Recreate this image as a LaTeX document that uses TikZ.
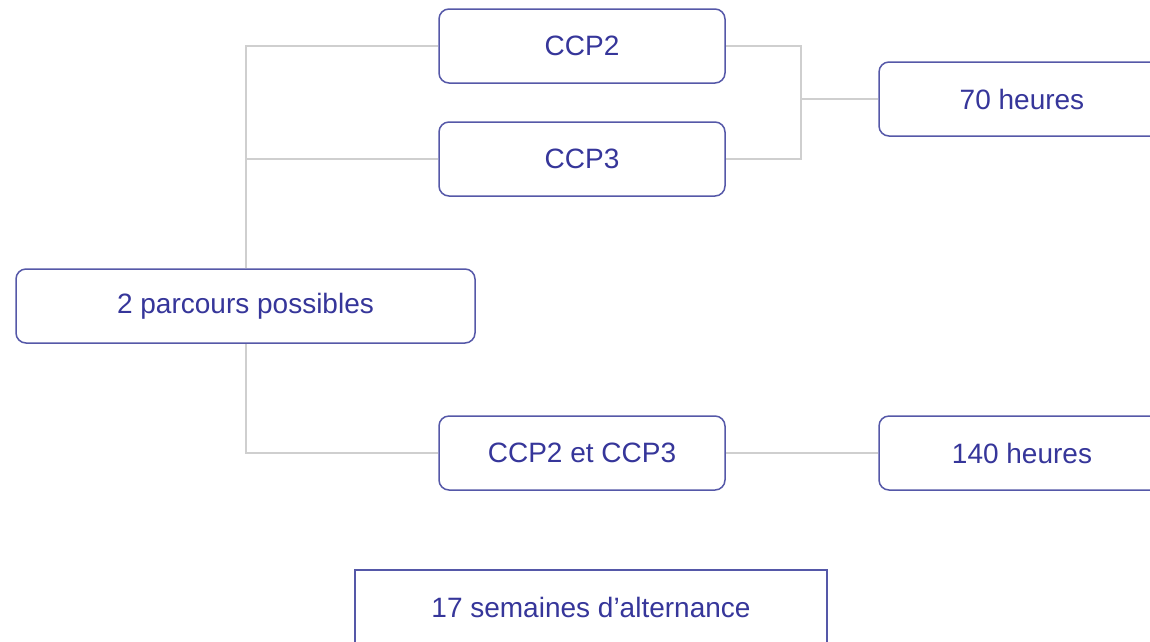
\documentclass[tikz,border=0pt]{standalone}
\usepackage{fontspec}
\setmainfont{Liberation Sans}
\definecolor{txt}{HTML}{36369A}
\definecolor{bord}{HTML}{5558A8}
\definecolor{conn}{HTML}{CFCFCF}
\begin{document}
\begin{tikzpicture}[x=1pt,y=-1pt,
  box/.style={draw=bord,line width=1.5pt,rounded corners=10pt,fill=white,text=txt,
    minimum height=74pt,inner sep=0pt,font=\fontsize{28}{33}\selectfont},
  sqbox/.style={box,rounded corners=0pt},
  link/.style={draw=conn,line width=2pt}]
\useasboundingbox (0,0) rectangle (1150,641);
\clip (0,0) rectangle (1150,641);
\node[box,minimum width=459pt] (parcours) at (245.5,306) {\raisebox{-2pt}{2 parcours possibles}};
\node[box,minimum width=286pt] (ccp2) at (582,46) {\raisebox{-2pt}{CCP2}};
\node[box,minimum width=286pt] (ccp3) at (582,159) {\raisebox{-2pt}{CCP3}};
\node[box,minimum width=286pt] (ccp23) at (582,453) {\raisebox{-2pt}{CCP2 et CCP3}};
\node[box,minimum width=286pt] (h70) at (1022,99) {\raisebox{-2pt}{70 heures}};
\node[box,minimum width=286pt] (h140) at (1022,453) {\raisebox{-2pt}{140 heures}};
\node[sqbox,minimum width=472pt] (sem) at (591,607) {\raisebox{-2pt}{17 semaines d’alternance}};
\coordinate (j) at (801,99);
\path[link] (parcours.north) |- (ccp2.west);
\path[link] (parcours.north) |- (ccp3.west);
\path[link] (parcours.south) |- (ccp23.west);
\path[link] (ccp2.east) -| (j) |- (ccp3.east);
\path[link] (j) -- (h70.west);
\path[link] (ccp23.east) -- (h140.west);
\end{tikzpicture}
\end{document}
